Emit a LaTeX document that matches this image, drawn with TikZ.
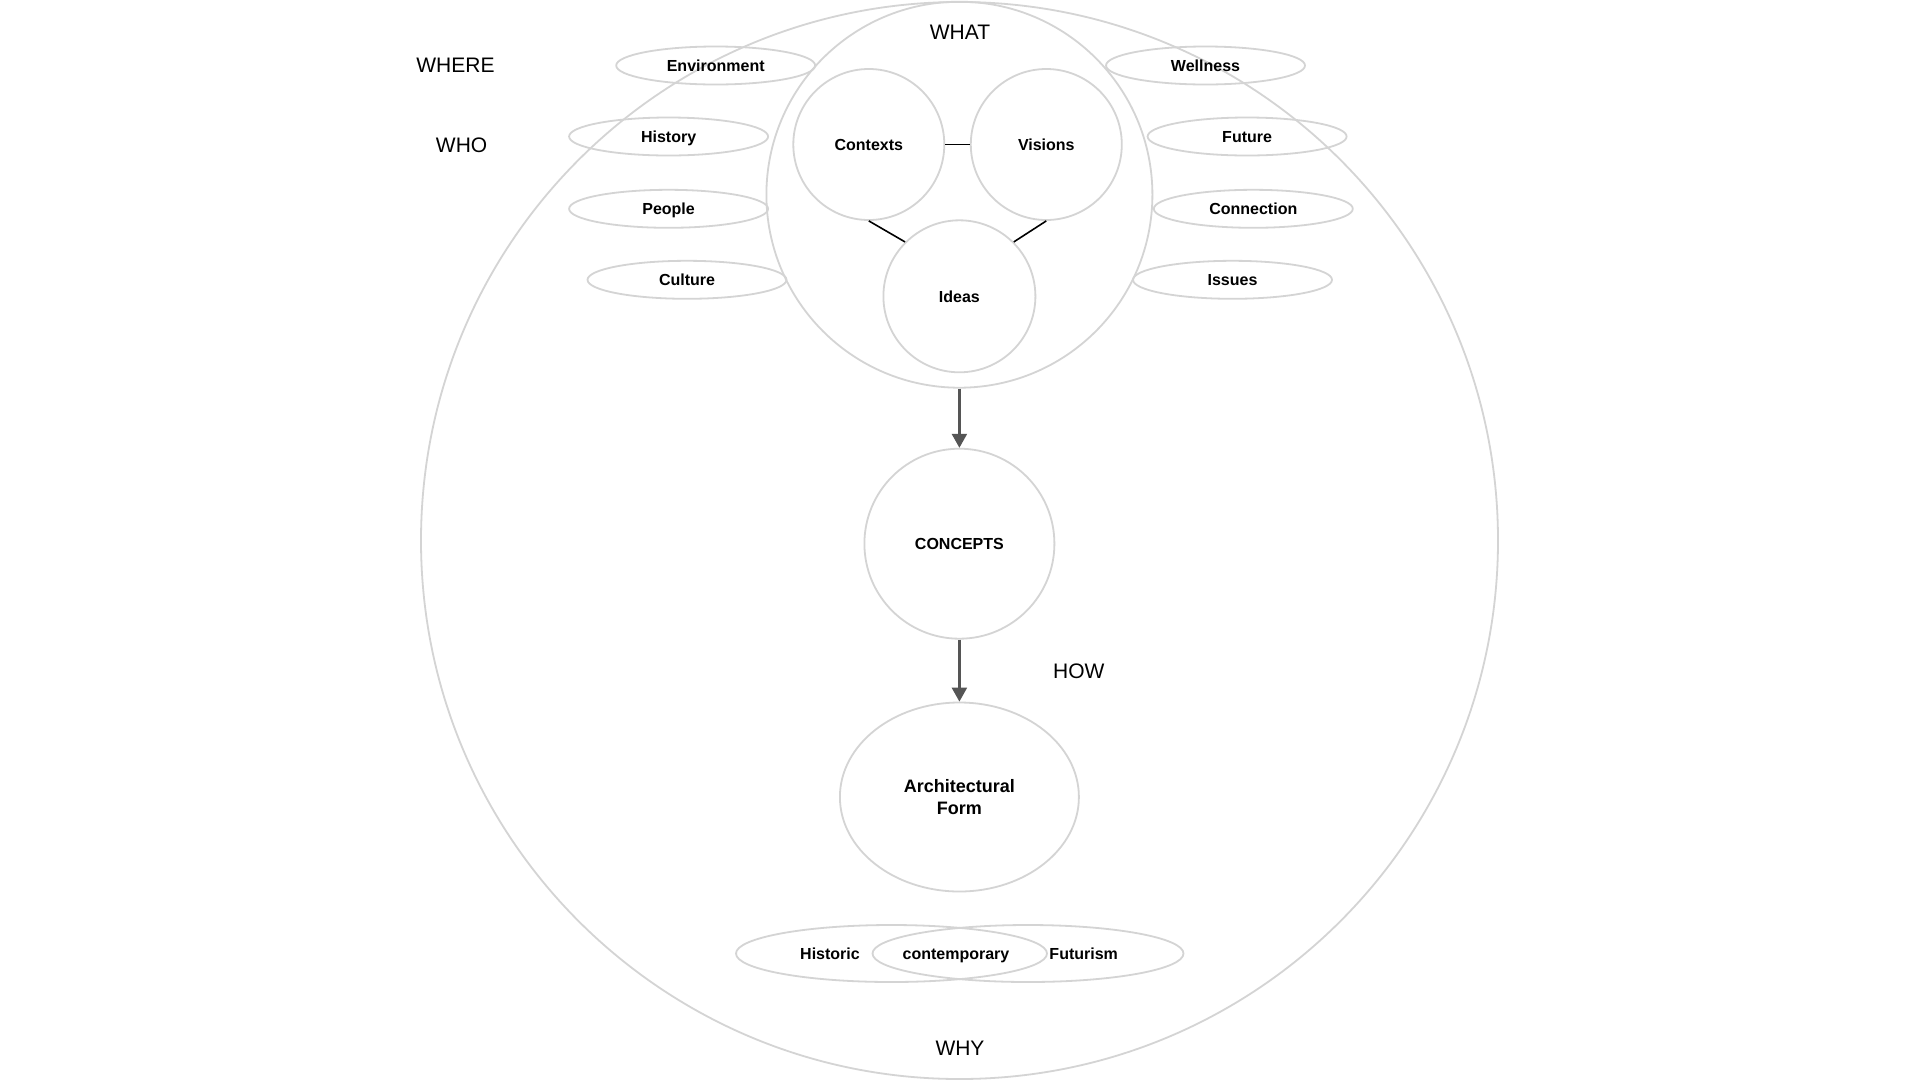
\documentclass[tikz,border=0pt]{standalone}
\usepackage{fontspec}
\setmainfont{Liberation Sans}
\usetikzlibrary{shapes.geometric,arrows.meta}
\definecolor{ring}{HTML}{D4D4D4}
\definecolor{arrowgray}{HTML}{555555}
\tikzset{
  ringc/.style={circle, draw=ring, line width=1.8pt, inner sep=0pt, text height=11.5pt, text depth=0pt, font=\bfseries\fontsize{16}{19}\selectfont},
  ringe/.style={ellipse, draw=ring, line width=1.8pt, inner sep=0pt, minimum width=199pt, minimum height=38pt, text height=11.5pt, text depth=0pt, font=\bfseries\fontsize{16}{19}\selectfont},
  qlabel/.style={font=\fontsize{21}{25}\selectfont, inner sep=0pt},
  blab/.style={font=\bfseries\fontsize{16}{19}\selectfont, inner sep=0pt, text height=11.5pt, text depth=0pt},
  link/.style={draw=black, line width=1.6pt},
  flow/.style={draw=arrowgray, line width=2.4pt, -{Triangle[width=15pt,length=14pt]}}
}
\begin{document}
\begin{tikzpicture}[x=1pt,y=-1pt]
\useasboundingbox[fill=white] (0,0) rectangle (1920,1080);
% outer circle
\node[ringc, minimum size=1077pt] (outer) at (959.5,540.5) {};
% what circle
\node[ringc, minimum size=386pt] (what) at (959.4,194.7) {};
\node[ringc, minimum size=151pt] (ctx) at (868.8,144.5) {Contexts};
\node[ringc, minimum size=151pt] (vis) at (1046.3,144.5) {Visions};
\node[ringc, minimum size=152pt] (ideas) at (959.4,296.3) {Ideas};
\draw[link] (ctx.east) -- (vis.west);
\draw[link] (ctx.south) -- (ideas.135);
\draw[link] (vis.south) -- (ideas.45);
% side ellipses
\node[ringe] (env) at (715.7,65.5) {Environment};
\node[ringe] (hist) at (668.6,136.5) {History};
\node[ringe] (peop) at (668.6,208.8) {People};
\node[ringe] (cult) at (687,279.8) {Culture};
\node[ringe] (well) at (1205.5,65.5) {Wellness};
\node[ringe] (fut) at (1247.1,136.5) {Future};
\node[ringe] (conn) at (1253.3,208.8) {Connection};
\node[ringe] (iss) at (1232.5,279.8) {Issues};
% concepts and form
\node[ringc, minimum size=190pt] (concepts) at (959.4,543.7) {CONCEPTS};
\node[ellipse, draw=ring, line width=1.8pt, inner sep=0pt, minimum width=239pt, minimum height=189pt, align=center, font=\bfseries\fontsize{18}{22}\selectfont] (form) at (959.4,797) {Architectural\\Form};
\draw[flow] (what.south) -- (concepts.north);
\draw[flow] (concepts.south) -- (form.north);
% time ellipses
\node[ellipse, draw=ring, line width=1.8pt, inner sep=0pt, minimum width=311pt, minimum height=57pt] (lefte) at (891.5,953.5) {};
\node[ellipse, draw=ring, line width=1.8pt, inner sep=0pt, minimum width=311pt, minimum height=57pt] (righte) at (1028,953.5) {};
\node[blab] (historic) at (830,954) {Historic};
\node[blab] (contemp) at (956,954) {contemporary};
\node[blab] (futurism) at (1083.7,954) {Futurism};
% question labels
\node[qlabel] (where) at (455.5,65) {WHERE};
\node[qlabel] (who) at (461.6,145.7) {WHO};
\node[qlabel] (whatl) at (960,31.8) {WHAT};
\node[qlabel] (how) at (1078.8,671) {HOW};
\node[qlabel] (why) at (960,1048) {WHY};
\end{tikzpicture}
\end{document}
